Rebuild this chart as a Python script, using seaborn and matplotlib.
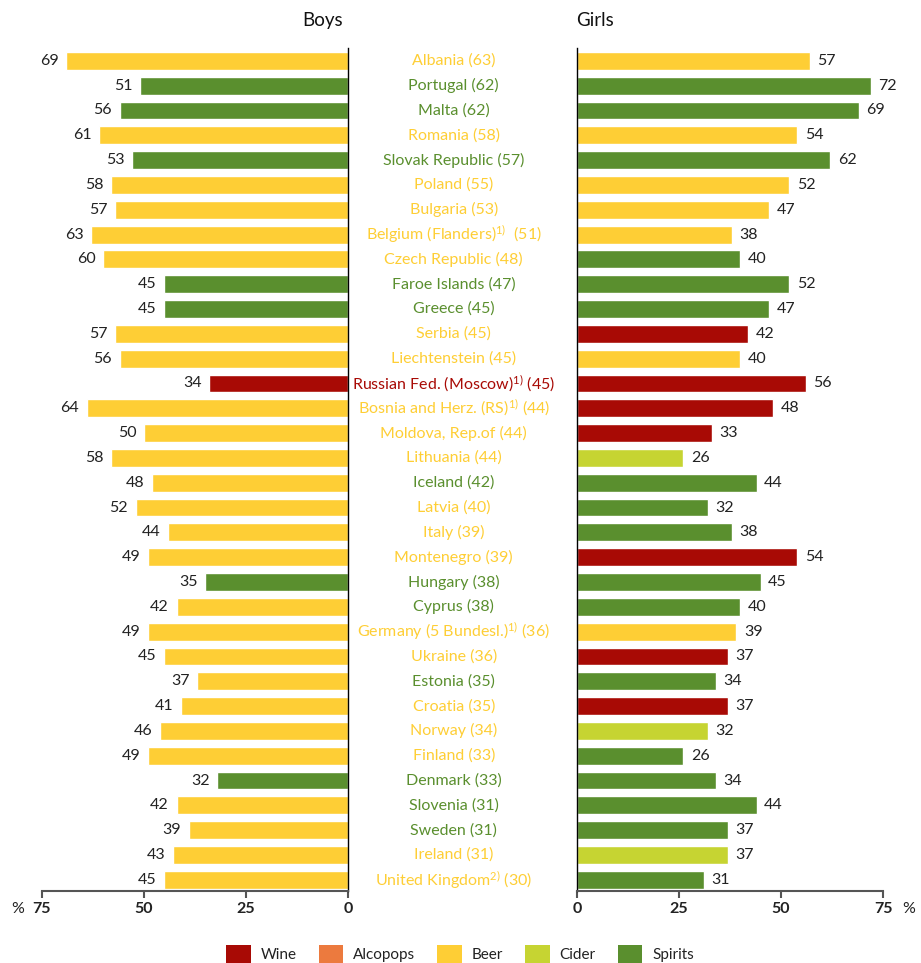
import numpy as np
import pandas as pd
import matplotlib.pyplot as plt
from matplotlib.patches import Patch
import seaborn as sns

# ---------------------------------------------------------------
# data
countries = [
    'Albania (63)', 'Portugal (62)', 'Malta (62)', 'Romania (58)',
    'Slovak Republic (57)', 'Poland (55)', 'Bulgaria (53)',
    'Belgium (Flanders)$^{1)}$  (51)', 'Czech Republic (48)',
    'Faroe Islands (47)', 'Greece (45)', 'Serbia (45)',
    'Liechtenstein (45)', 'Russian Fed. (Moscow)$^{1)}$ (45)',
    'Bosnia and Herz. (RS)$^{1)}$ (44)', 'Moldova, Rep.of (44)',
    'Lithuania (44)', 'Iceland (42)', 'Latvia (40)', 'Italy (39)',
    'Montenegro (39)', 'Hungary (38)', 'Cyprus (38)',
    'Germany (5 Bundesl.)$^{1)}$ (36)', 'Ukraine (36)', 'Estonia (35)',
    'Croatia (35)', 'Norway (34)', 'Finland (33)', 'Denmark (33)',
    'Slovenia (31)', 'Sweden (31)', 'Ireland (31)',
    'United Kingdom$^{2)}$ (30)']

boys = [69, 51, 56, 61, 53, 58, 57, 63, 60, 45, 45, 57, 56, 34, 64, 50, 58,
        48, 52, 44, 49, 35, 42, 49, 45, 37, 41, 46, 49, 32, 42, 39, 43, 45]
boys_drink = ['Beer', 'Spirits', 'Spirits', 'Beer', 'Spirits', 'Beer', 'Beer',
              'Beer', 'Beer', 'Spirits', 'Spirits', 'Beer', 'Beer', 'Wine',
              'Beer', 'Beer', 'Beer', 'Beer', 'Beer', 'Beer', 'Beer', 'Spirits',
              'Beer', 'Beer', 'Beer', 'Beer', 'Beer', 'Beer', 'Beer', 'Spirits',
              'Beer', 'Beer', 'Beer', 'Beer']

girls = [57, 72, 69, 54, 62, 52, 47, 38, 40, 52, 47, 42, 40, 56, 48, 33, 26,
         44, 32, 38, 54, 45, 40, 39, 37, 34, 37, 32, 26, 34, 44, 37, 37, 31]
girls_drink = ['Beer', 'Spirits', 'Spirits', 'Beer', 'Spirits', 'Beer', 'Beer',
               'Beer', 'Spirits', 'Spirits', 'Spirits', 'Wine', 'Beer', 'Wine',
               'Wine', 'Wine', 'Cider', 'Spirits', 'Spirits', 'Spirits', 'Wine',
               'Spirits', 'Spirits', 'Beer', 'Wine', 'Spirits', 'Wine', 'Cider',
               'Spirits', 'Spirits', 'Spirits', 'Spirits', 'Cider', 'Spirits']

label_drink = ['Beer', 'Spirits', 'Spirits', 'Beer', 'Spirits', 'Beer', 'Beer',
               'Beer', 'Beer', 'Spirits', 'Spirits', 'Beer', 'Beer', 'Wine',
               'Beer', 'Beer', 'Beer', 'Spirits', 'Beer', 'Beer', 'Beer',
               'Spirits', 'Spirits', 'Beer', 'Beer', 'Spirits', 'Beer', 'Beer',
               'Beer', 'Spirits', 'Spirits', 'Spirits', 'Beer', 'Beer']

drinks = ['Wine', 'Alcopops', 'Beer', 'Cider', 'Spirits']
palette = {'Wine': '#a80a05', 'Alcopops': '#ec7a3e', 'Beer': '#fece35',
           'Cider': '#c6d432', 'Spirits': '#5a8f2e'}
# ---------------------------------------------------------------

sns.set_style('white')
plt.rcParams['font.family'] = ['Lato', 'DejaVu Sans']
plt.rcParams['mathtext.default'] = 'regular'

df = pd.DataFrame({'country': countries, 'boys': boys, 'boys_drink': boys_drink,
                   'girls': girls, 'girls_drink': girls_drink})

fig = plt.figure(figsize=(9.21, 9.63), dpi=100)
axL = fig.add_axes([0.0456, 0.0748, 0.3323, 0.8754])
axR = fig.add_axes([0.6265, 0.0748, 0.3323, 0.8754])

for ax, col, hue in [(axL, 'boys', 'boys_drink'), (axR, 'girls', 'girls_drink')]:
    sns.barplot(data=df, x=col, y='country', hue=hue, palette=palette,
                order=countries, dodge=False, width=0.72, orient='h',
                legend=False, ax=ax, saturation=1)
    ax.set_xlim(0, 75)
    if ax is axL:
        ax.invert_xaxis()
    for c in ax.containers:
        ax.bar_label(c, fmt='%g', padding=5.5, fontsize=11.5, color='#222222')
    ax.set_ylim(33.45, -0.52)
    ax.set_yticks([])
    ax.set_xticks([0, 25, 50, 75])
    ax.set_xlabel('')
    ax.set_ylabel('')
    ax.tick_params(axis='x', length=5, width=1.5, color='#555555', direction='out',
                   labelsize=11.5, labelcolor='#222222', pad=3, bottom=True)
    for lab in ax.get_xticklabels():
        lab.set_fontweight('bold')
    for s in ax.spines.values():
        s.set_visible(False)
    ax.spines['bottom'].set_visible(True)
    ax.spines['bottom'].set_color('#555555')
    ax.spines['bottom'].set_linewidth(1.5)

axL.spines['right'].set_visible(True)
axL.spines['right'].set_color('black')
axL.spines['right'].set_linewidth(1.0)
axR.spines['left'].set_visible(True)
axR.spines['left'].set_color('black')
axR.spines['left'].set_linewidth(1.0)

# country names in the middle column
for i, name in enumerate(countries):
    axL.text(1.3455, i, name, transform=axL.get_yaxis_transform(),
             ha='center', va='center', fontsize=11.5,
             color=palette[label_drink[i]])

fig.text(0.3724, 0.979, 'Boys', ha='right', va='center', fontsize=13.5, color='#111111')
fig.text(0.6255, 0.979, 'Girls', ha='left', va='center', fontsize=13.5, color='#111111')
fig.text(0.0195, 0.056, '%', ha='center', va='center', fontsize=11.5, color='#222222')
fig.text(0.987, 0.056, '%', ha='center', va='center', fontsize=11.5, color='#222222')

handles = [Patch(facecolor=palette[d], edgecolor='none', label=d) for d in drinks]
fig.legend(handles=handles, loc='center', bbox_to_anchor=(0.4995, 0.0095), ncol=5,
           frameon=False, fontsize=11, handlelength=1.6, handleheight=1.45,
           columnspacing=1.45, handletextpad=0.65, labelcolor='#222222')

fig.savefig('out.png', dpi=100)
